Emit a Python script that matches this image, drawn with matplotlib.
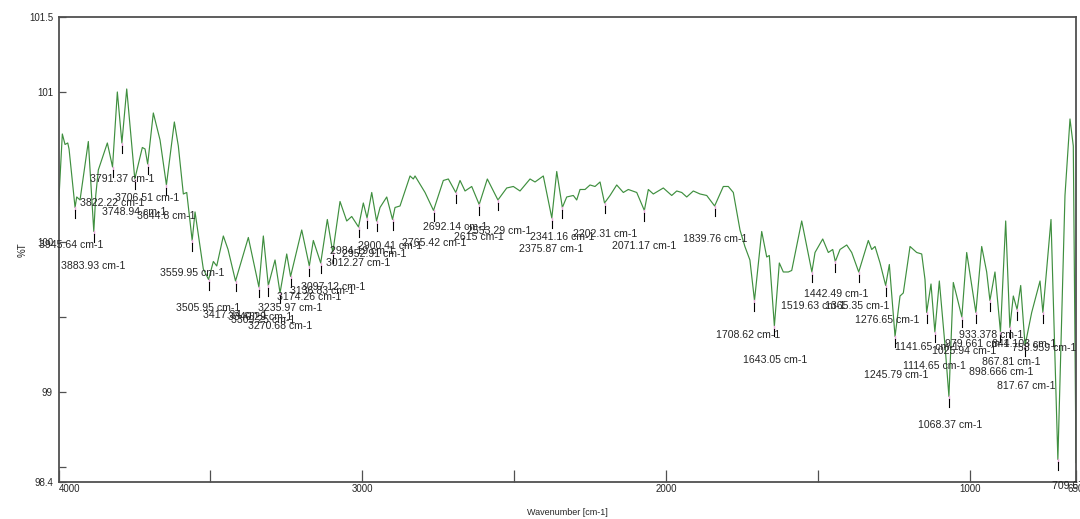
import numpy as np
import matplotlib.pyplot as plt

# ---- spectrum (wavenumber in cm-1, %T) ----
wavenumber = [
    4000.0, 3987.5, 3978.6, 3969.7, 3965.4, 3945.6, 3940.1, 3929.2, 3901.9, 3883.9,
    3877.5, 3869.0, 3839.3, 3822.2, 3806.4, 3791.4, 3775.5, 3748.9, 3724.1, 3715.2,
    3706.5, 3687.9, 3665.8, 3644.8, 3618.7, 3605.6, 3589.1, 3577.9, 3560.0, 3550.6,
    3523.3, 3506.0, 3490.3, 3479.1, 3457.4, 3441.9, 3417.3, 3375.1, 3340.3, 3325.7,
    3309.3, 3287.2, 3270.7, 3248.7, 3236.0, 3199.3, 3174.3, 3161.1, 3136.8, 3115.0,
    3097.1, 3073.2, 3051.1, 3034.7, 3012.3, 2996.5, 2984.2, 2968.8, 2952.9, 2941.5,
    2919.4, 2900.4, 2892.1, 2875.7, 2842.7, 2831.9, 2826.2, 2793.3, 2765.4, 2733.1,
    2716.6, 2692.1, 2678.1, 2661.6, 2639.6, 2615.0, 2588.2, 2553.3, 2524.3, 2502.6,
    2480.6, 2447.6, 2431.2, 2403.9, 2375.9, 2359.7, 2341.2, 2326.8, 2305.1, 2293.9,
    2283.0, 2266.5, 2250.1, 2233.6, 2217.1, 2202.3, 2184.2, 2162.2, 2140.4, 2124.0,
    2096.3, 2071.2, 2058.1, 2041.7, 2008.8, 1981.1, 1964.6, 1948.2, 1931.7, 1910.0,
    1887.9, 1865.9, 1839.8, 1811.2, 1794.8, 1778.3, 1756.3, 1740.2, 1723.7, 1708.6,
    1684.8, 1668.3, 1659.8, 1643.1, 1626.8, 1613.7, 1597.2, 1586.0, 1553.1, 1519.6,
    1509.3, 1483.9, 1465.5, 1451.0, 1442.5, 1427.0, 1404.9, 1388.5, 1365.4, 1333.8,
    1322.6, 1311.7, 1295.2, 1276.7, 1264.6, 1245.8, 1229.4, 1218.6, 1196.5, 1174.5,
    1158.0, 1147.2, 1141.7, 1127.4, 1114.7, 1100.0, 1081.3, 1068.4, 1054.0, 1042.8,
    1025.9, 1009.9, 979.7, 960.5, 944.1, 933.4, 916.8, 898.7, 881.5, 867.8,
    856.4, 844.0, 832.1, 817.7, 795.9, 768.5, 759.0, 732.3, 709.7, 686.3,
    669.8, 658.9, 650.0,
]
transmittance = [
    100.24, 100.72, 100.65, 100.66, 100.62, 100.23, 100.30, 100.28, 100.67, 100.07,
    100.31, 100.48, 100.66, 100.50, 101.00, 100.66, 101.02, 100.42, 100.63, 100.62,
    100.52, 100.86, 100.68, 100.38, 100.80, 100.64, 100.32, 100.33, 100.01, 100.20,
    99.82, 99.75, 99.87, 99.84, 100.04, 99.95, 99.74, 100.03, 99.70, 100.04,
    99.71, 99.88, 99.66, 99.92, 99.77, 100.08, 99.84, 100.01, 99.86, 100.15,
    99.93, 100.27, 100.14, 100.17, 100.10, 100.26, 100.16, 100.33, 100.14, 100.23,
    100.30, 100.15, 100.23, 100.24, 100.44, 100.42, 100.44, 100.33, 100.21, 100.41,
    100.42, 100.33, 100.41, 100.34, 100.37, 100.25, 100.42, 100.28, 100.36, 100.37,
    100.34, 100.42, 100.40, 100.44, 100.16, 100.47, 100.23, 100.30, 100.31, 100.28,
    100.35, 100.35, 100.38, 100.37, 100.40, 100.26, 100.31, 100.38, 100.33, 100.35,
    100.33, 100.21, 100.35, 100.32, 100.36, 100.31, 100.34, 100.33, 100.30, 100.34,
    100.32, 100.31, 100.24, 100.37, 100.37, 100.33, 100.08, 99.97, 99.88, 99.61,
    100.07, 99.90, 99.91, 99.44, 99.86, 99.80, 99.80, 99.81, 100.14, 99.80,
    99.93, 100.02, 99.93, 99.95, 99.87, 99.95, 99.98, 99.93, 99.80, 100.01,
    99.95, 99.97, 99.86, 99.71, 99.85, 99.37, 99.64, 99.66, 99.97, 99.93,
    99.92, 99.75, 99.53, 99.72, 99.40, 99.74, 99.31, 98.97, 99.73, 99.64,
    99.50, 99.93, 99.53, 99.97, 99.80, 99.61, 99.80, 99.40, 100.14, 99.43,
    99.64, 99.55, 99.71, 99.31, 99.53, 99.74, 99.53, 100.15, 98.55, 100.31,
    100.82, 100.64, 98.53,
]

# ---- peak picks and where the software dropped their labels ----
peak_labels = [
    "3945.64", "3883.93", "3822.22", "3791.37", "3748.94", "3706.51", "3644.8",
    "3559.95", "3505.95", "3417.34", "3340.29", "3309.25", "3270.68", "3235.97",
    "3174.26", "3136.83", "3097.12", "3012.27", "2984.19", "2952.91", "2900.41",
    "2765.42", "2692.14", "2615", "2553.29", "2375.87", "2341.16", "2202.31",
    "2071.17", "1839.76", "1708.62", "1643.05", "1519.63", "1442.49", "1365.35",
    "1276.65", "1245.79", "1141.65", "1114.65", "1068.37", "1025.94", "979.661",
    "933.378", "844.103", "898.666", "867.81", "817.67", "758.959", "709.676",
]
label_pos = [
    (4064, 99.98), (3992, 99.84), (3929, 100.26), (3896, 100.42), (3857, 100.20),
    (3814, 100.29), (3741, 100.17), (3666, 99.79), (3613, 99.56), (3524, 99.51),
    (3442, 99.50), (3432, 99.48), (3376, 99.44), (3343, 99.56), (3281, 99.63),
    (3238, 99.67), (3203, 99.70), (3119, 99.86), (3106, 99.94), (3067, 99.92),
    (3014, 99.97), (2869, 99.99), (2800, 100.10), (2698, 100.03), (2655, 100.07),
    (2483, 99.95), (2448, 100.03), (2307, 100.05), (2177, 99.97), (1943, 100.02),
    (1835, 99.38), (1746, 99.21), (1622, 99.57), (1546, 99.65), (1476, 99.57),
    (1378, 99.48), (1348, 99.11), (1246, 99.30), (1219, 99.17), (1169, 98.78),
    (1125, 99.27), (1081, 99.32), (1035, 99.38), (928, 99.32), (1002, 99.13),
    (961, 99.20), (911, 99.04), (861, 99.29), (729, 98.37),
]

LINE = '#3f8f3f'
TXT = '#262626'
AXC = '#505050'
FONT = ['Liberation Sans', 'DejaVu Sans']
NARROW = ['Liberation Sans Narrow', 'Liberation Sans', 'DejaVu Sans']

fig = plt.figure(figsize=(10.8, 5.19), dpi=100)
ax = fig.add_axes([0.0542, 0.0713, 0.9421, 0.8960])

ax.plot(wavenumber, transmittance, color=LINE, lw=0.85)

wn_asc = np.array(wavenumber)[::-1]
t_asc = np.array(transmittance)[::-1]
for lbl, (lx, ly) in zip(peak_labels, label_pos):
    w = float(lbl)
    t0 = np.interp(w, wn_asc, t_asc)
    ax.plot([w, w], [t0, t0 - 0.02], color='#e6a8d8', lw=1.0)
    ax.plot([w, w], [t0 - 0.02, t0 - 0.07], color='black', lw=0.8)
    ax.text(lx, ly, f"{lbl} cm-1", fontsize=7.6, color=TXT, ha='left',
            va='center', family=FONT, clip_on=False)

ax.set_xlim(4000, 650)
ax.set_ylim(98.4, 101.5)

ax.set_xticks([4000, 3000, 2000, 1000, 650])
ax.set_xticklabels(['4000', '3000', '2000', '1000', '650'])
ax.set_xticks([3500, 2500, 1500], minor=True)
ax.set_yticks([98.4, 99, 100, 101, 101.5])
ax.set_yticklabels(['98.4', '99', '100', '101', '101.5'])
ax.set_yticks([98.5, 99.5], minor=True)
ax.get_xticklabels()[0].set_ha('left')

ax.tick_params(axis='x', which='both', direction='in', length=9, width=0.9,
               color=AXC, labelsize=7, pad=1.5, labelcolor=TXT)
ax.tick_params(axis='y', which='both', direction='in', length=5, width=0.9,
               color=AXC, labelsize=7, pad=4, labelcolor=TXT)
for lab in ax.get_xticklabels() + ax.get_yticklabels():
    lab.set_family(FONT)

for sp in ax.spines.values():
    sp.set_color(AXC)
    sp.set_linewidth(1.3)

ax.set_xlabel("Wavenumber [cm-1]", fontsize=6.5, color=TXT,
              family=NARROW, labelpad=10)
ax.set_ylabel("%T", fontsize=7, color=TXT, family=FONT, labelpad=1)

fig.savefig('out.png', dpi=100, facecolor='white')
